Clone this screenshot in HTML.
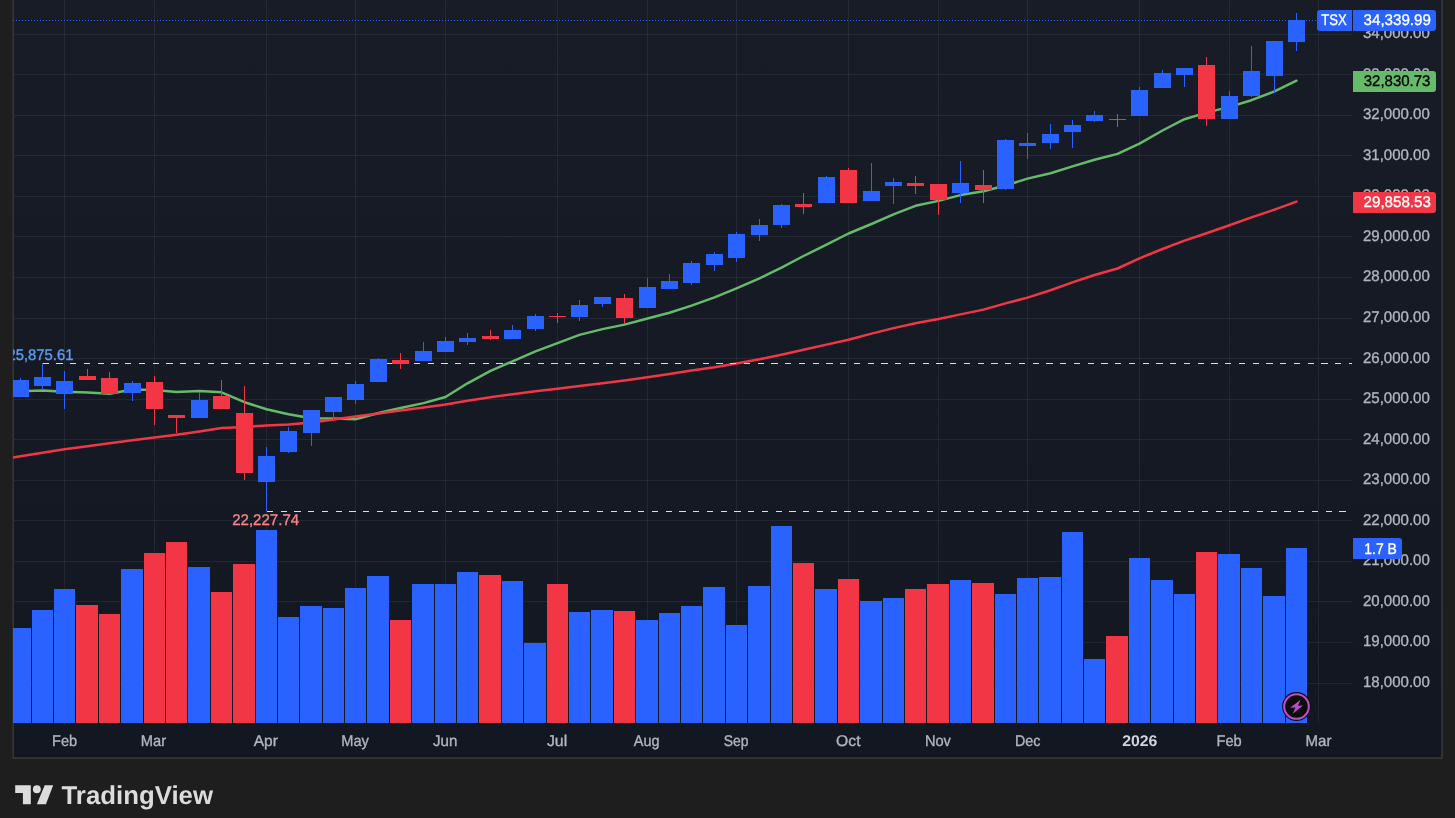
<!DOCTYPE html><html><head><meta charset="utf-8"><title>TSX chart</title><style>
html,body{margin:0;padding:0;background:#1e1e1e;}body{width:1455px;height:818px;overflow:hidden;font-family:"Liberation Sans",sans-serif;}
svg{display:block;position:absolute;left:0;top:0}text{paint-order:stroke;stroke-width:0.35px;stroke-linejoin:round;font-family:"Liberation Sans",sans-serif;font-size:15.5px;text-rendering:geometricPrecision}
</style></head><body>
<svg width="1455" height="818" viewBox="0 0 1455 818">
<defs><linearGradient id="bg" x1="0" y1="0" x2="0" y2="1"><stop offset="0" stop-color="#181c27"/><stop offset="1" stop-color="#131722"/></linearGradient>
<clipPath id="plot"><rect x="13" y="0" width="1339" height="723"/></clipPath></defs>
<rect x="0" y="0" width="1455" height="818" fill="#1e1e1e"/>
<rect x="12" y="0" width="1431" height="759" fill="#333434"/>
<rect x="13" y="0" width="1429" height="758" fill="#2c2e32"/>
<rect x="12" y="0" width="1" height="759" fill="#2c2c2c"/>
<rect x="13" y="0" width="1" height="758" fill="#313336"/>
<rect x="14" y="0" width="1427" height="723" fill="url(#bg)"/>
<rect x="14" y="723" width="1427" height="34" fill="#131722"/>
<g shape-rendering="crispEdges" fill="#f0f3fa" fill-opacity="0.065">
<rect x="14" y="683" width="1338" height="1"/>
<rect x="14" y="642" width="1338" height="1"/>
<rect x="14" y="601" width="1338" height="1"/>
<rect x="14" y="561" width="1338" height="1"/>
<rect x="14" y="520" width="1338" height="1"/>
<rect x="14" y="480" width="1338" height="1"/>
<rect x="14" y="439" width="1338" height="1"/>
<rect x="14" y="399" width="1338" height="1"/>
<rect x="14" y="358" width="1338" height="1"/>
<rect x="14" y="318" width="1338" height="1"/>
<rect x="14" y="277" width="1338" height="1"/>
<rect x="14" y="236" width="1338" height="1"/>
<rect x="14" y="196" width="1338" height="1"/>
<rect x="14" y="155" width="1338" height="1"/>
<rect x="14" y="115" width="1338" height="1"/>
<rect x="14" y="74" width="1338" height="1"/>
<rect x="14" y="34" width="1338" height="1"/>
<rect x="64" y="0" width="1" height="723"/>
<rect x="154" y="0" width="1" height="723"/>
<rect x="266" y="0" width="1" height="723"/>
<rect x="355" y="0" width="1" height="723"/>
<rect x="445" y="0" width="1" height="723"/>
<rect x="557" y="0" width="1" height="723"/>
<rect x="647" y="0" width="1" height="723"/>
<rect x="736" y="0" width="1" height="723"/>
<rect x="848" y="0" width="1" height="723"/>
<rect x="938" y="0" width="1" height="723"/>
<rect x="1027" y="0" width="1" height="723"/>
<rect x="1139" y="0" width="1" height="723"/>
<rect x="1229" y="0" width="1" height="723"/>
<rect x="1318" y="0" width="1" height="723"/>
</g>
<g shape-rendering="crispEdges" clip-path="url(#plot)">
<rect x="13" y="628" width="18" height="95" fill="#2962ff"/>
<rect x="32" y="610" width="21" height="113" fill="#2962ff"/>
<rect x="54" y="589" width="21" height="134" fill="#2962ff"/>
<rect x="76" y="605" width="22" height="118" fill="#f23645"/>
<rect x="99" y="614" width="21" height="109" fill="#f23645"/>
<rect x="121" y="569" width="22" height="154" fill="#2962ff"/>
<rect x="144" y="553" width="21" height="170" fill="#f23645"/>
<rect x="166" y="542" width="21" height="181" fill="#f23645"/>
<rect x="188" y="567" width="22" height="156" fill="#2962ff"/>
<rect x="211" y="592" width="21" height="131" fill="#f23645"/>
<rect x="233" y="564" width="22" height="159" fill="#f23645"/>
<rect x="256" y="530" width="21" height="193" fill="#2962ff"/>
<rect x="278" y="617" width="21" height="106" fill="#2962ff"/>
<rect x="300" y="606" width="22" height="117" fill="#2962ff"/>
<rect x="323" y="608" width="21" height="115" fill="#2962ff"/>
<rect x="345" y="588" width="21" height="135" fill="#2962ff"/>
<rect x="367" y="576" width="22" height="147" fill="#2962ff"/>
<rect x="390" y="620" width="21" height="103" fill="#f23645"/>
<rect x="412" y="584" width="22" height="139" fill="#2962ff"/>
<rect x="435" y="584" width="21" height="139" fill="#2962ff"/>
<rect x="457" y="572" width="21" height="151" fill="#2962ff"/>
<rect x="479" y="575" width="22" height="148" fill="#f23645"/>
<rect x="502" y="581" width="21" height="142" fill="#2962ff"/>
<rect x="524" y="643" width="22" height="80" fill="#2962ff"/>
<rect x="547" y="584" width="21" height="139" fill="#f23645"/>
<rect x="569" y="612" width="21" height="111" fill="#2962ff"/>
<rect x="591" y="610" width="22" height="113" fill="#2962ff"/>
<rect x="614" y="611" width="21" height="112" fill="#f23645"/>
<rect x="636" y="620" width="22" height="103" fill="#2962ff"/>
<rect x="659" y="613" width="21" height="110" fill="#2962ff"/>
<rect x="681" y="606" width="21" height="117" fill="#2962ff"/>
<rect x="703" y="587" width="22" height="136" fill="#2962ff"/>
<rect x="726" y="625" width="21" height="98" fill="#2962ff"/>
<rect x="748" y="586" width="22" height="137" fill="#2962ff"/>
<rect x="771" y="526" width="21" height="197" fill="#2962ff"/>
<rect x="793" y="563" width="21" height="160" fill="#f23645"/>
<rect x="815" y="589" width="22" height="134" fill="#2962ff"/>
<rect x="838" y="579" width="21" height="144" fill="#f23645"/>
<rect x="860" y="601" width="22" height="122" fill="#2962ff"/>
<rect x="883" y="598" width="21" height="125" fill="#2962ff"/>
<rect x="905" y="589" width="21" height="134" fill="#f23645"/>
<rect x="927" y="584" width="22" height="139" fill="#f23645"/>
<rect x="950" y="580" width="21" height="143" fill="#2962ff"/>
<rect x="972" y="583" width="22" height="140" fill="#f23645"/>
<rect x="995" y="594" width="21" height="129" fill="#2962ff"/>
<rect x="1017" y="578" width="21" height="145" fill="#2962ff"/>
<rect x="1039" y="577" width="22" height="146" fill="#2962ff"/>
<rect x="1062" y="532" width="21" height="191" fill="#2962ff"/>
<rect x="1084" y="659" width="21" height="64" fill="#2962ff"/>
<rect x="1106" y="636" width="22" height="87" fill="#f23645"/>
<rect x="1129" y="558" width="21" height="165" fill="#2962ff"/>
<rect x="1151" y="580" width="22" height="143" fill="#2962ff"/>
<rect x="1174" y="594" width="21" height="129" fill="#2962ff"/>
<rect x="1196" y="552" width="21" height="171" fill="#f23645"/>
<rect x="1218" y="554" width="22" height="169" fill="#2962ff"/>
<rect x="1241" y="568" width="21" height="155" fill="#2962ff"/>
<rect x="1263" y="596" width="22" height="127" fill="#2962ff"/>
<rect x="1286" y="548" width="21" height="175" fill="#2962ff"/>
</g>
<g clip-path="url(#plot)" fill="none" stroke-linejoin="round" stroke-linecap="round" stroke-width="2.5">
<path d="M13 391.5 L20.5 391.3 L42.5 390.4 L64.5 391.7 L87.5 392.5 L109.5 393.8 L132.5 389.5 L154.5 389.9 L176.5 392.1 L199.5 390.9 L221.5 392.3 L244.5 402.2 L266.5 409.3 L288.5 414.2 L311.5 418.3 L333.5 418.6 L355.5 419.2 L378.5 413.0 L400.5 408.0 L423.5 403.1 L445.5 397.0 L467.5 383.3 L490.5 370.9 L512.5 361.3 L535.5 351.4 L557.5 343.2 L579.5 334.9 L602.5 329.1 L624.5 324.6 L647.5 318.5 L669.5 312.7 L691.5 305.6 L714.5 297.4 L736.5 288.3 L759.5 278.4 L781.5 267.7 L803.5 256.0 L826.5 244.6 L848.5 233.5 L871.5 224.0 L893.5 214.4 L915.5 205.8 L938.5 200.9 L960.5 195.1 L983.5 191.3 L1005.5 185.5 L1027.5 178.6 L1050.5 173.2 L1072.5 166.4 L1094.5 159.7 L1117.5 153.9 L1139.5 143.7 L1162.5 130.5 L1184.5 119.2 L1206.5 112.6 L1229.5 106.9 L1251.5 100.2 L1274.5 91.4 L1296.5 80.7" stroke="#66bb6a"/>
<path d="M13 457.5 L20.5 456.3 L42.5 452.7 L64.5 449.2 L87.5 446.2 L109.5 443.3 L132.5 440.3 L154.5 437.5 L176.5 434.7 L199.5 431.5 L221.5 428.1 L244.5 426.9 L266.5 425.6 L288.5 424.5 L311.5 422.4 L333.5 419.5 L355.5 416.5 L378.5 413.5 L400.5 410.5 L423.5 407.5 L445.5 404.4 L467.5 400.8 L490.5 397.3 L512.5 394.2 L535.5 391.2 L557.5 388.7 L579.5 386.0 L602.5 383.3 L624.5 380.5 L647.5 377.2 L669.5 373.9 L691.5 370.6 L714.5 367.3 L736.5 363.5 L759.5 359.3 L781.5 354.7 L803.5 349.8 L826.5 344.6 L848.5 339.7 L871.5 333.6 L893.5 328.1 L915.5 323.2 L938.5 319.0 L960.5 314.4 L983.5 309.6 L1005.5 303.4 L1027.5 297.6 L1050.5 290.2 L1072.5 282.4 L1094.5 275.0 L1117.5 268.5 L1139.5 258.3 L1162.5 249.0 L1184.5 240.6 L1206.5 233.2 L1229.5 225.2 L1251.5 217.4 L1274.5 209.6 L1296.5 201.6" stroke="#f23645"/>
</g>
<g shape-rendering="crispEdges" stroke="#ffeb3b" stroke-width="1" stroke-dasharray="6.25 7.5">
<line x1="42.5" y1="363.5" x2="1352" y2="363.5"/>
<line x1="266.8" y1="511.5" x2="1352" y2="511.5"/>
</g>
<g shape-rendering="crispEdges" clip-path="url(#plot)">
<rect x="20" y="378" width="1" height="19" fill="#2962ff"/>
<rect x="12" y="380" width="17" height="17" fill="#2962ff"/>
<rect x="42" y="363" width="1" height="27" fill="#2962ff"/>
<rect x="34" y="377" width="17" height="9" fill="#2962ff"/>
<rect x="64" y="371" width="1" height="38" fill="#2962ff"/>
<rect x="56" y="381" width="17" height="13" fill="#2962ff"/>
<rect x="87" y="369" width="1" height="11" fill="#f23645"/>
<rect x="79" y="376" width="17" height="4" fill="#f23645"/>
<rect x="109" y="372" width="1" height="22" fill="#f23645"/>
<rect x="101" y="378" width="17" height="16" fill="#f23645"/>
<rect x="132" y="381" width="1" height="20" fill="#2962ff"/>
<rect x="124" y="383" width="17" height="10" fill="#2962ff"/>
<rect x="154" y="376" width="1" height="49" fill="#f23645"/>
<rect x="146" y="382" width="17" height="27" fill="#f23645"/>
<rect x="176" y="415" width="1" height="18" fill="#f23645"/>
<rect x="168" y="415" width="17" height="3" fill="#f23645"/>
<rect x="199" y="392" width="1" height="26" fill="#2962ff"/>
<rect x="191" y="400" width="17" height="18" fill="#2962ff"/>
<rect x="221" y="380" width="1" height="29" fill="#f23645"/>
<rect x="213" y="396" width="17" height="13" fill="#f23645"/>
<rect x="244" y="386" width="1" height="94" fill="#f23645"/>
<rect x="236" y="413" width="17" height="60" fill="#f23645"/>
<rect x="266" y="447" width="1" height="64" fill="#2962ff"/>
<rect x="258" y="456" width="17" height="26" fill="#2962ff"/>
<rect x="288" y="427" width="1" height="26" fill="#2962ff"/>
<rect x="280" y="431" width="17" height="21" fill="#2962ff"/>
<rect x="311" y="410" width="1" height="36" fill="#2962ff"/>
<rect x="303" y="410" width="17" height="23" fill="#2962ff"/>
<rect x="333" y="397" width="1" height="22" fill="#2962ff"/>
<rect x="325" y="397" width="17" height="15" fill="#2962ff"/>
<rect x="355" y="381" width="1" height="23" fill="#2962ff"/>
<rect x="347" y="384" width="17" height="16" fill="#2962ff"/>
<rect x="378" y="358" width="1" height="24" fill="#2962ff"/>
<rect x="370" y="359" width="17" height="23" fill="#2962ff"/>
<rect x="400" y="353" width="1" height="16" fill="#f23645"/>
<rect x="392" y="360" width="17" height="4" fill="#f23645"/>
<rect x="423" y="342" width="1" height="19" fill="#2962ff"/>
<rect x="415" y="351" width="17" height="10" fill="#2962ff"/>
<rect x="445" y="337" width="1" height="15" fill="#2962ff"/>
<rect x="437" y="341" width="17" height="11" fill="#2962ff"/>
<rect x="467" y="333" width="1" height="12" fill="#2962ff"/>
<rect x="459" y="338" width="17" height="4" fill="#2962ff"/>
<rect x="490" y="330" width="1" height="10" fill="#f23645"/>
<rect x="482" y="336" width="17" height="3" fill="#f23645"/>
<rect x="512" y="325" width="1" height="14" fill="#2962ff"/>
<rect x="504" y="330" width="17" height="9" fill="#2962ff"/>
<rect x="535" y="314" width="1" height="17" fill="#2962ff"/>
<rect x="527" y="316" width="17" height="13" fill="#2962ff"/>
<rect x="557" y="313" width="1" height="10" fill="#f23645"/>
<rect x="549" y="316" width="17" height="1" fill="#f23645"/>
<rect x="579" y="300" width="1" height="21" fill="#2962ff"/>
<rect x="571" y="305" width="17" height="12" fill="#2962ff"/>
<rect x="602" y="297" width="1" height="10" fill="#2962ff"/>
<rect x="594" y="297" width="17" height="7" fill="#2962ff"/>
<rect x="624" y="294" width="1" height="30" fill="#f23645"/>
<rect x="616" y="298" width="17" height="20" fill="#f23645"/>
<rect x="647" y="278" width="1" height="30" fill="#2962ff"/>
<rect x="639" y="287" width="17" height="21" fill="#2962ff"/>
<rect x="669" y="274" width="1" height="15" fill="#2962ff"/>
<rect x="661" y="281" width="17" height="8" fill="#2962ff"/>
<rect x="691" y="261" width="1" height="24" fill="#2962ff"/>
<rect x="683" y="263" width="17" height="20" fill="#2962ff"/>
<rect x="714" y="252" width="1" height="19" fill="#2962ff"/>
<rect x="706" y="254" width="17" height="11" fill="#2962ff"/>
<rect x="736" y="232" width="1" height="30" fill="#2962ff"/>
<rect x="728" y="234" width="17" height="24" fill="#2962ff"/>
<rect x="759" y="219" width="1" height="22" fill="#2962ff"/>
<rect x="751" y="225" width="17" height="10" fill="#2962ff"/>
<rect x="781" y="204" width="1" height="24" fill="#2962ff"/>
<rect x="773" y="205" width="17" height="20" fill="#2962ff"/>
<rect x="803" y="193" width="1" height="21" fill="#f23645"/>
<rect x="795" y="204" width="17" height="3" fill="#f23645"/>
<rect x="826" y="176" width="1" height="27" fill="#2962ff"/>
<rect x="818" y="177" width="17" height="26" fill="#2962ff"/>
<rect x="848" y="168" width="1" height="35" fill="#f23645"/>
<rect x="840" y="170" width="17" height="33" fill="#f23645"/>
<rect x="871" y="163" width="1" height="38" fill="#2962ff"/>
<rect x="863" y="191" width="17" height="10" fill="#2962ff"/>
<rect x="893" y="178" width="1" height="26" fill="#2962ff"/>
<rect x="885" y="182" width="17" height="4" fill="#2962ff"/>
<rect x="915" y="176" width="1" height="18" fill="#f23645"/>
<rect x="907" y="183" width="17" height="3" fill="#f23645"/>
<rect x="938" y="184" width="1" height="31" fill="#f23645"/>
<rect x="930" y="184" width="17" height="16" fill="#f23645"/>
<rect x="960" y="161" width="1" height="42" fill="#2962ff"/>
<rect x="952" y="183" width="17" height="10" fill="#2962ff"/>
<rect x="983" y="170" width="1" height="33" fill="#f23645"/>
<rect x="975" y="185" width="17" height="5" fill="#f23645"/>
<rect x="1005" y="139" width="1" height="51" fill="#2962ff"/>
<rect x="997" y="140" width="17" height="49" fill="#2962ff"/>
<rect x="1027" y="133" width="1" height="26" fill="#2962ff"/>
<rect x="1019" y="143" width="17" height="3" fill="#2962ff"/>
<rect x="1050" y="124" width="1" height="25" fill="#2962ff"/>
<rect x="1042" y="134" width="17" height="9" fill="#2962ff"/>
<rect x="1072" y="120" width="1" height="28" fill="#2962ff"/>
<rect x="1064" y="125" width="17" height="7" fill="#2962ff"/>
<rect x="1094" y="111" width="1" height="11" fill="#2962ff"/>
<rect x="1086" y="115" width="17" height="6" fill="#2962ff"/>
<rect x="1117" y="114" width="1" height="13" fill="#f23645"/>
<rect x="1109" y="119" width="17" height="1" fill="#f23645"/>
<rect x="1139" y="87" width="1" height="29" fill="#2962ff"/>
<rect x="1131" y="90" width="17" height="26" fill="#2962ff"/>
<rect x="1162" y="70" width="1" height="18" fill="#2962ff"/>
<rect x="1154" y="73" width="17" height="15" fill="#2962ff"/>
<rect x="1184" y="68" width="1" height="19" fill="#2962ff"/>
<rect x="1176" y="68" width="17" height="7" fill="#2962ff"/>
<rect x="1206" y="57" width="1" height="69" fill="#f23645"/>
<rect x="1198" y="65" width="17" height="54" fill="#f23645"/>
<rect x="1229" y="91" width="1" height="28" fill="#2962ff"/>
<rect x="1221" y="96" width="17" height="23" fill="#2962ff"/>
<rect x="1251" y="46" width="1" height="51" fill="#2962ff"/>
<rect x="1243" y="71" width="17" height="25" fill="#2962ff"/>
<rect x="1274" y="41" width="1" height="52" fill="#2962ff"/>
<rect x="1266" y="41" width="17" height="35" fill="#2962ff"/>
<rect x="1296" y="13" width="1" height="38" fill="#2962ff"/>
<rect x="1288" y="20" width="17" height="22" fill="#2962ff"/>
</g>
<line x1="13" y1="20.5" x2="1317" y2="20.5" stroke="#2962ff" stroke-width="1" stroke-dasharray="1 2" shape-rendering="crispEdges"/>
<g clip-path="url(#plot)"><text x="40.5" y="360" text-anchor="middle" fill="#5b9cf6" stroke="#5b9cf6" textLength="66" lengthAdjust="spacingAndGlyphs">25,875.61</text>
<text x="265.7" y="525" text-anchor="middle" fill="#f7858a" stroke="#f7858a" textLength="67" lengthAdjust="spacingAndGlyphs">22,227.74</text></g>
<g fill="#b2b5be" stroke="#b2b5be">
<text class="n" x="1363" y="687.0" textLength="66.8" lengthAdjust="spacingAndGlyphs">18,000.00</text>
<text class="n" x="1363" y="646.4" textLength="66.8" lengthAdjust="spacingAndGlyphs">19,000.00</text>
<text class="n" x="1363" y="605.9" textLength="66.8" lengthAdjust="spacingAndGlyphs">20,000.00</text>
<text class="n" x="1363" y="565.3" textLength="66.8" lengthAdjust="spacingAndGlyphs">21,000.00</text>
<text class="n" x="1363" y="524.7" textLength="66.8" lengthAdjust="spacingAndGlyphs">22,000.00</text>
<text class="n" x="1363" y="484.2" textLength="66.8" lengthAdjust="spacingAndGlyphs">23,000.00</text>
<text class="n" x="1363" y="443.6" textLength="66.8" lengthAdjust="spacingAndGlyphs">24,000.00</text>
<text class="n" x="1363" y="403.0" textLength="66.8" lengthAdjust="spacingAndGlyphs">25,000.00</text>
<text class="n" x="1363" y="362.5" textLength="66.8" lengthAdjust="spacingAndGlyphs">26,000.00</text>
<text class="n" x="1363" y="321.9" textLength="66.8" lengthAdjust="spacingAndGlyphs">27,000.00</text>
<text class="n" x="1363" y="281.4" textLength="66.8" lengthAdjust="spacingAndGlyphs">28,000.00</text>
<text class="n" x="1363" y="240.8" textLength="66.8" lengthAdjust="spacingAndGlyphs">29,000.00</text>
<text class="n" x="1363" y="200.2" textLength="66.8" lengthAdjust="spacingAndGlyphs">30,000.00</text>
<text class="n" x="1363" y="159.7" textLength="66.8" lengthAdjust="spacingAndGlyphs">31,000.00</text>
<text class="n" x="1363" y="119.1" textLength="66.8" lengthAdjust="spacingAndGlyphs">32,000.00</text>
<text class="n" x="1363" y="78.5" textLength="66.8" lengthAdjust="spacingAndGlyphs">33,000.00</text>
<text class="n" x="1363" y="38.0" textLength="66.8" lengthAdjust="spacingAndGlyphs">34,000.00</text>
</g>
<path d="M1320 10H1352V31H1320Q1317 31 1317 28V13Q1317 10 1320 10Z" fill="#2962ff"/>
<path d="M1353 10H1433Q1436 10 1436 13V28Q1436 31 1433 31H1353V10Z" fill="#2962ff"/>
<text x="1321.3" y="25.3" fill="#fff" stroke="#fff" textLength="25.5" lengthAdjust="spacingAndGlyphs">TSX</text>
<text x="1363.6" y="25.1" fill="#fff" stroke="#fff" textLength="67.2" lengthAdjust="spacingAndGlyphs">34,339.99</text>
<path d="M1353 71H1433Q1436 71 1436 74V89Q1436 92 1433 92H1353V71Z" fill="#66bb6a"/>
<text x="1363.8" y="86.1" fill="#000" stroke="#000" textLength="66.6" lengthAdjust="spacingAndGlyphs">32,830.73</text>
<path d="M1353 192H1433Q1436 192 1436 195V210Q1436 213 1433 213H1353V192Z" fill="#f23645"/>
<text x="1363.6" y="207.1" fill="#fff" stroke="#fff" textLength="67.2" lengthAdjust="spacingAndGlyphs">29,858.53</text>
<path d="M1353 538H1399Q1402 538 1402 541V556Q1402 559 1399 559H1353V538Z" fill="#2962ff"/>
<text x="1364.3" y="554" fill="#fff" stroke="#fff" textLength="32.6" lengthAdjust="spacingAndGlyphs">1.7 B</text>
<g fill="#b2b5be" stroke="#b2b5be">
<text x="52.1" y="746.2" textLength="25.0" lengthAdjust="spacingAndGlyphs">Feb</text>
<text x="140.8" y="746.2" textLength="25.3" lengthAdjust="spacingAndGlyphs">Mar</text>
<text x="253.8" y="746.2" textLength="24.1" lengthAdjust="spacingAndGlyphs">Apr</text>
<text x="341.3" y="746.2" textLength="27.6" lengthAdjust="spacingAndGlyphs">May</text>
<text x="433.0" y="746.2" textLength="24.4" lengthAdjust="spacingAndGlyphs">Jun</text>
<text x="546.9" y="746.2" textLength="20.3" lengthAdjust="spacingAndGlyphs">Jul</text>
<text x="633.8" y="746.2" textLength="25.7" lengthAdjust="spacingAndGlyphs">Aug</text>
<text x="723.8" y="746.2" textLength="24.8" lengthAdjust="spacingAndGlyphs">Sep</text>
<text x="836.1" y="746.2" textLength="24.4" lengthAdjust="spacingAndGlyphs">Oct</text>
<text x="924.9" y="746.2" textLength="26.0" lengthAdjust="spacingAndGlyphs">Nov</text>
<text x="1015.0" y="746.2" textLength="25.4" lengthAdjust="spacingAndGlyphs">Dec</text>
<text x="1122.2" y="746.2" textLength="35.2" lengthAdjust="spacingAndGlyphs" font-weight="bold" fill="#d1d4dc" stroke="none">2026</text>
<text x="1216.5" y="746.2" textLength="25.2" lengthAdjust="spacingAndGlyphs">Feb</text>
<text x="1305.5" y="746.2" textLength="26.0" lengthAdjust="spacingAndGlyphs">Mar</text>
</g>
<circle cx="1296.5" cy="706.5" r="14.4" fill="#0e1018"/>
<circle cx="1296.5" cy="706.5" r="12.3" fill="#0c0c0c" stroke="#b84ec8" stroke-width="2.1"/>
<path d="M1300.6 699.7L1290.1 707.8L1295.4 707.5L1292.8 713.7L1303 705.4L1297.9 705.8Z" fill="#b84ec8"/>
<g fill="#dcdcdc">
<path d="M15.2 785.3H30.8V804.2H22.9V793H15.2Z"/>
<circle cx="36.85" cy="789.25" r="3.95"/>
<path d="M44.7 785.3H53.2L45.9 804.2H36.8Z"/>
<text x="61.5" y="804" font-weight="bold" style="font-size:25.8px" textLength="151.5" lengthAdjust="spacingAndGlyphs">TradingView</text>
</g>
</svg></body></html>
